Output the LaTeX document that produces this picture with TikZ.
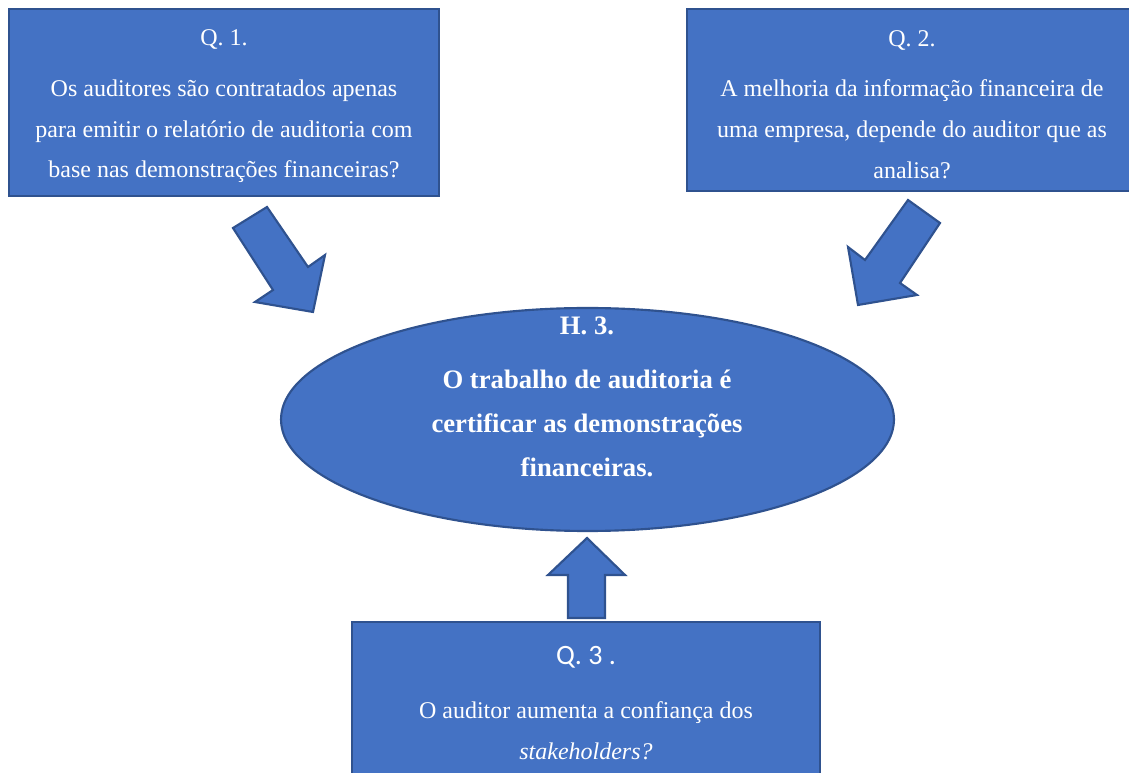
\documentclass[tikz,border=0pt]{standalone}
\usepackage{fontspec}
\setmainfont{Liberation Serif}
\newfontfamily\calfont{Carlito}
\usetikzlibrary{shapes.geometric}
\definecolor{boxfill}{HTML}{4472C4}
\definecolor{boxline}{HTML}{2F528F}

\begin{document}
\begin{tikzpicture}[x=0.75pt, y=-0.75pt,
  qbox/.style={rectangle, fill=boxfill, draw=boxline, line width=1.6pt},
  qtext/.style={text=white, align=center, font=\fontsize{18}{30.5}\selectfont},
  hypo/.style={ellipse, fill=boxfill, draw=boxline, line width=1.6pt},
  hyptext/.style={text=white, align=center, font=\fontsize{20}{33}\selectfont\bfseries},
  blockarrow/.style={fill=boxfill, draw=boxline, line width=1.6pt, line join=miter}]
\useasboundingbox (0,0) rectangle (1129,773);
\node[qbox, minimum width=322.5pt, minimum height=140.25pt] (q1) at (224,102.5) {};
\node[qtext] (q1t) at (224,106.5) {Q. 1.\\[7.5pt]
  Os auditores são contratados apenas\\
  para emitir o relatório de auditoria com\\
  base nas demonstrações financeiras?};
\node[qbox, minimum width=339.75pt, minimum height=136.5pt] (q2) at (913.5,100) {};
\node[qtext] (q2t) at (912,104.5) {Q. 2.\\[7.5pt]
  A melhoria da informação financeira de\\
  uma empresa, depende do auditor que as\\
  analisa?};
\node[qbox, minimum width=351pt, minimum height=126pt] (q3) at (586,706) {};
\node[qtext] (q3t) at (586,703) {{\calfont\fontsize{21}{30.5}\selectfont Q. 3 .}\\[10pt]
  O auditor aumenta a confiança dos\\
  \textit{stakeholders?}};
\node[hypo, minimum width=459.75pt, minimum height=167.25pt] (h3) at (587.5,419.5) {};
\node[hyptext] (h3t) at (587,397) {H. 3.\\[7.5pt]
  O trabalho de auditoria é\\
  certificar as demonstrações\\
  financeiras.};
\filldraw[blockarrow] (233,228) -- (267,207) -- (308,267) -- (325,255) -- (313,312) -- (255,302) -- (273,290) -- cycle;
\filldraw[blockarrow] (908,200) -- (940,223) -- (900,283) -- (917,295) -- (858,305) -- (848,247) -- (865,260) -- cycle;
\filldraw[blockarrow] (568,618) -- (568,575) -- (548,575) -- (587,538) -- (625,575) -- (605,575) -- (605,618) -- cycle;
\end{tikzpicture}
\end{document}
